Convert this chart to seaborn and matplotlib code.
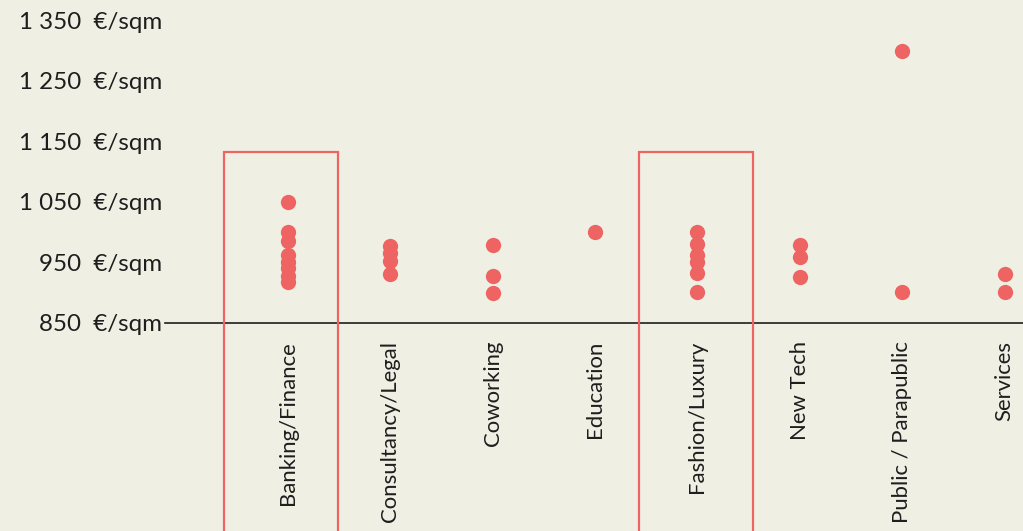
import pandas as pd
import matplotlib
matplotlib.use("Agg")
import matplotlib.pyplot as plt
import seaborn as sns
from matplotlib.patches import Rectangle

# values, in €/sqm
sectors = ["Banking/Finance", "Consultancy/Legal", "Coworking", "Education",
           "Fashion/Luxury", "New Tech", "Public / Parapublic", "Services"]

banking     = [1050, 1000, 985, 962, 950, 940, 928, 918]
consultancy = [977, 965, 952, 930]
coworking   = [978, 928, 899]
education   = [1000]
fashion     = [1000, 980, 962, 950, 933, 900]
new_tech    = [978, 958, 925]
public      = [1300, 900]
services    = [930, 900]

y_ticks     = [850, 950, 1050, 1150, 1250, 1350]
highlighted = ["Banking/Finance", "Fashion/Luxury"]
box_top     = 1133

red = "#ee6462"
bg = "#f0efe4"
ink = "#1e1e1e"

groups = [banking, consultancy, coworking, education, fashion, new_tech, public, services]
df = pd.concat([pd.DataFrame({"sector": s, "price": v}) for s, v in zip(sectors, groups)],
               ignore_index=True)

sns.set_theme(style="white")
plt.rcParams["font.family"] = ["Lato", "DejaVu Sans"]

fig = plt.figure(figsize=(10.23, 5.31), dpi=100, facecolor=bg)
ax = fig.add_axes([165 / 1023, (531 - 322.7) / 531, 1 - 165 / 1023, 322.7 / 531])
ax.set_facecolor(bg)

sns.stripplot(data=df, x="sector", y="price", order=sectors, jitter=False,
              color=red, size=11, linewidth=0, ax=ax)

# outlined boxes for the highlighted sectors, running off the bottom
box_left = {"Banking/Finance": -0.625, "Fashion/Luxury": -0.57}
for s in highlighted:
    i = sectors.index(s)
    ax.add_patch(Rectangle((i + box_left[s], 400), 1.115, box_top - 400, fill=False,
                           edgecolor=red, linewidth=1.6, clip_on=False, zorder=3))

ax.set_xlim(-1.2, 7.18)
ax.set_ylim(850, 1384)
ax.set_yticks(y_ticks)
ax.set_yticklabels([f"{v:,}".replace(",", " ") + "  €/sqm" for v in y_ticks],
                   fontsize=17.4, color=ink)
ax.set_xticks(range(len(sectors)))
ax.set_xticklabels(sectors, rotation=90, va="top", ha="center", fontsize=15.9, color=ink)
ax.tick_params(axis="x", length=0, pad=13)
ax.tick_params(axis="y", length=0, pad=2)
ax.set_xlabel("")
ax.set_ylabel("")

for side in ["top", "right", "left"]:
    ax.spines[side].set_visible(False)
ax.spines["bottom"].set_color(ink)
ax.spines["bottom"].set_linewidth(1.2)

fig.savefig("out.png", dpi=100, facecolor=bg)
